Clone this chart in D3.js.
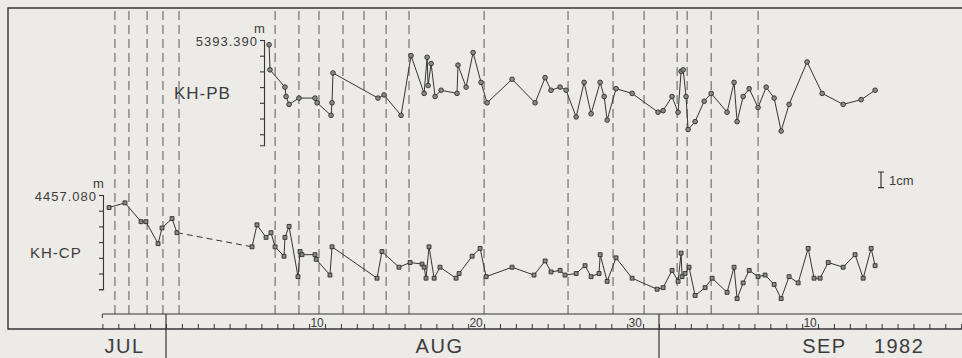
<!DOCTYPE html>
<html>
<head>
<meta charset="utf-8">
<script src="https://cdn.jsdelivr.net/npm/d3@7"></script>
<style>
  html, body { margin: 0; padding: 0; background: #ecebe8; }
  svg { display: block; }
  text { font-family: "Liberation Sans", Arial, sans-serif; fill: #3c3c3c; }
</style>
</head>
<body>
<svg id="chart" width="962" height="358"></svg>
<script>
// time is counted in days: t = 1 is 1 Aug 1982 0h, t = 32 is 1 Sep 1982 0h
const pbDays = [7.48, 7.54, 8.48, 8.55, 8.74, 9.36, 10.37, 10.50, 11.38, 11.44, 11.50, 14.33, 14.71, 15.78,
  16.41, 17.23, 17.42, 17.48, 17.67, 17.92, 18.30, 19.30, 19.36, 19.87, 20.31, 20.81, 21.19, 22.76, 24.21,
  24.84, 25.21, 25.78, 26.16, 26.79, 27.29, 27.73, 28.30, 28.55, 28.74, 29.30, 30.31, 31.94, 32.26, 32.82,
  33.20, 33.39, 33.52, 33.70, 33.83, 34.27, 34.84, 35.28, 36.28, 36.72, 36.91, 37.29, 37.67, 38.23, 38.74,
  39.24, 39.68, 40.18, 41.31, 42.26, 43.58, 44.71, 45.59];
const pbValues = [5393.387, 5393.371, 5393.360, 5393.354, 5393.349, 5393.353, 5393.353, 5393.350, 5393.342,
  5393.350, 5393.369, 5393.353, 5393.355, 5393.342, 5393.380, 5393.356, 5393.379, 5393.361, 5393.375,
  5393.354, 5393.358, 5393.356, 5393.374, 5393.360, 5393.382, 5393.363, 5393.350, 5393.365, 5393.350,
  5393.366, 5393.358, 5393.360, 5393.358, 5393.341, 5393.363, 5393.343, 5393.363, 5393.354, 5393.339,
  5393.359, 5393.356, 5393.344, 5393.345, 5393.354, 5393.344, 5393.370, 5393.371, 5393.354, 5393.333,
  5393.338, 5393.351, 5393.356, 5393.344, 5393.363, 5393.338, 5393.354, 5393.359, 5393.347, 5393.360,
  5393.353, 5393.332, 5393.349, 5393.376, 5393.356, 5393.349, 5393.352, 5393.358];

const cpDays = [-2.58, -1.58, -0.57, -0.26, 0.50, 0.75, 1.38, 1.69, 6.41, 6.72, 7.29, 7.60, 7.86, 8.42, 8.48,
  8.74, 9.30, 9.43, 9.55, 10.37, 10.45, 11.31, 11.44, 14.27, 14.58, 15.65, 16.35, 17.10, 17.23, 17.35, 17.54,
  17.86, 18.23, 19.24, 19.43, 20.25, 20.75, 21.13, 22.76, 24.14, 24.84, 25.21, 25.78, 26.09, 26.79, 27.35,
  27.73, 28.23, 28.30, 28.74, 29.30, 30.31, 31.88, 32.26, 32.82, 33.20, 33.39, 33.45, 33.64, 33.89, 34.27,
  34.90, 35.34, 36.28, 36.72, 36.91, 37.29, 37.67, 38.23, 38.67, 39.24, 39.68, 40.18, 40.75, 41.38, 41.75,
  42.13, 42.64, 43.58, 44.33, 44.84, 45.34, 45.59];
const cpValues = [4457.072, 4457.075, 4457.063, 4457.063, 4457.049, 4457.059, 4457.065, 4457.056, 4457.047,
  4457.061, 4457.053, 4457.056, 4457.047, 4457.041, 4457.053, 4457.060, 4457.028, 4457.044, 4457.042,
  4457.042, 4457.039, 4457.029, 4457.047, 4457.027, 4457.044, 4457.034, 4457.037, 4457.036, 4457.034,
  4457.027, 4457.047, 4457.027, 4457.034, 4457.027, 4457.030, 4457.041, 4457.046, 4457.028, 4457.034,
  4457.029, 4457.038, 4457.031, 4457.032, 4457.029, 4457.030, 4457.035, 4457.028, 4457.030, 4457.042,
  4457.025, 4457.040, 4457.027, 4457.020, 4457.021, 4457.032, 4457.025, 4457.043, 4457.028, 4457.030,
  4457.034, 4457.016, 4457.021, 4457.027, 4457.018, 4457.034, 4457.014, 4457.024, 4457.032, 4457.028,
  4457.029, 4457.023, 4457.014, 4457.028, 4457.024, 4457.046, 4457.027, 4457.027, 4457.037, 4457.034,
  4457.042, 4457.027, 4457.046, 4457.035];

// dashed vertical marks
const eventDays = [-2.21, -1.33, -0.19, 0.81, 1.82, 7.86, 9.36, 10.62, 12.13, 13.45, 14.84, 16.28, 21.0,
  26.28, 29.11, 31.06, 33.14, 33.77, 35.28, 38.23];

const pbTop = 5393.390;
const cpTop = 4457.080;
const monthStarts = [1, 32];
const monthNames = ["JUL", "AUG", "SEP", "1982"];
const monthLabelDays = [-1.6, 18.2, 42.4, 47.1];
const dayLabels = ["10", "20", "30", "10"];
const dayLabelDays = [10.5, 20.5, 30.5, 41.5];

const width = 962, height = 358;
const frameL = 8, frameT = 8, baseY = 329, innerY = 314;
const pxPerCm = 15.7;
const ink = "#353535";

const svg = d3.select("#chart");

const x = d3.scaleLinear().domain([1, 32]).range([166, 659]);
const yPB = d3.scaleLinear().domain([pbTop, pbTop - 0.067]).range([40, 40 + 6.7 * pxPerCm]);
const yCP = d3.scaleLinear().domain([cpTop, cpTop - 0.06]).range([195, 195 + 6 * pxPerCm]);
const lastDay = x.invert(width);

// frame
svg.append("path")
  .attr("d", `M${width},${frameT}H${frameL}V${baseY}H${width}`)
  .attr("fill", "none")
  .attr("stroke", ink)
  .attr("stroke-width", 1.4);

// event lines
svg.selectAll(".event")
  .data(eventDays)
  .enter()
  .append("line")
  .attr("class", "event")
  .attr("x1", d => x(d)).attr("x2", d => x(d))
  .attr("y1", frameT + 3).attr("y2", innerY)
  .attr("stroke", "#5a5a5a")
  .attr("stroke-width", 1)
  .attr("stroke-dasharray", "9,5");

// day axis
svg.append("line")
  .attr("x1", x(-3)).attr("x2", width)
  .attr("y1", innerY).attr("y2", innerY)
  .attr("stroke", ink).attr("stroke-width", 1.2);
svg.append("line")
  .attr("x1", x(-3)).attr("x2", x(-3))
  .attr("y1", innerY).attr("y2", innerY + 4)
  .attr("stroke", ink);

svg.append("g")
  .attr("transform", `translate(0,${baseY})`)
  .call(d3.axisTop(x)
    .tickValues(d3.range(-3, Math.floor(lastDay) + 1))
    .tickSize(5)
    .tickFormat(""))
  .call(g => g.select(".domain").remove())
  .call(g => g.selectAll("line").attr("stroke", ink));

svg.selectAll(".daylab")
  .data(dayLabels)
  .enter()
  .append("text")
  .attr("class", "daylab")
  .attr("x", (d, i) => x(dayLabelDays[i]))
  .attr("y", baseY - 2)
  .attr("text-anchor", "middle")
  .style("font-size", "12px")
  .text(d => d);

svg.selectAll(".msep")
  .data(monthStarts)
  .enter()
  .append("line")
  .attr("class", "msep")
  .attr("x1", d => x(d)).attr("x2", d => x(d))
  .attr("y1", innerY).attr("y2", height)
  .attr("stroke", ink).attr("stroke-width", 1.2);

svg.selectAll(".month")
  .data(monthNames)
  .enter()
  .append("text")
  .attr("class", "month")
  .attr("x", (d, i) => x(monthLabelDays[i]))
  .attr("y", 353)
  .attr("text-anchor", "middle")
  .style("font-size", "20px")
  .style("letter-spacing", "1.5px")
  .text(d => d);

// vertical scales
function drawScale(y, top, axisX, label, labelX, labelY, labelSize) {
  const g = svg.append("g").attr("transform", `translate(${axisX},0)`);
  g.call(d3.axisLeft(y)
      .tickValues(d3.range(7).map(k => top - k * 0.01))
      .tickSize(4)
      .tickSizeOuter(4)
      .tickFormat(""))
    .call(g => g.selectAll("path,line").attr("stroke", ink).attr("stroke-width", 1.1));

  svg.append("text")
    .attr("x", axisX - 6).attr("y", y(top) + 6)
    .attr("text-anchor", "end")
    .style("font-size", "13px")
    .style("letter-spacing", "1px")
    .text(top.toFixed(3));
  svg.append("text")
    .attr("x", axisX - 10).attr("y", y(top) - 7)
    .style("font-size", "13px")
    .text("m");
  svg.append("text")
    .attr("x", labelX).attr("y", labelY)
    .style("font-size", labelSize)
    .style("letter-spacing", "1px")
    .text(label);
}

drawScale(yPB, pbTop, 264, "KH-PB", 174, 99, "17px");
drawScale(yCP, cpTop, 103, "KH-CP", 30, 258, "15px");

// series
function drawSeries(days, values, y, shape) {
  const pts = days.map((d, i) => [x(d), y(values[i])]);
  const segs = d3.pairs(pts).map((p, i) => ({ p, gap: days[i + 1] - days[i] > 4 }));

  svg.append("g")
    .selectAll("line")
    .data(segs)
    .enter()
    .append("line")
    .attr("x1", d => d.p[0][0]).attr("y1", d => d.p[0][1])
    .attr("x2", d => d.p[1][0]).attr("y2", d => d.p[1][1])
    .attr("stroke", ink)
    .attr("stroke-width", 1)
    .attr("stroke-dasharray", d => d.gap ? "6,4" : null);

  const sym = d3.symbol().type(shape === "circle" ? d3.symbolCircle : d3.symbolSquare)
    .size(shape === "circle" ? 17 : 15);
  svg.append("g")
    .selectAll("path")
    .data(pts)
    .enter()
    .append("path")
    .attr("d", sym)
    .attr("transform", d => `translate(${d[0]},${d[1]})`)
    .attr("fill", "#8a8a8a")
    .attr("stroke", "#2e2e2e")
    .attr("stroke-width", 0.9);
}

drawSeries(pbDays, pbValues, yPB, "circle");
drawSeries(cpDays, cpValues, yCP, "square");

// 1 cm bar
const barX = 881, barY = 172;
svg.append("path")
  .attr("d", `M${barX - 3},${barY}H${barX + 3}M${barX},${barY}V${barY + pxPerCm}M${barX - 3},${barY + pxPerCm}H${barX + 3}`)
  .attr("stroke", ink)
  .attr("fill", "none")
  .attr("stroke-width", 1.2);
svg.append("text")
  .attr("x", barX + 8).attr("y", barY + 13)
  .style("font-size", "13px")
  .text("1cm");
</script>
</body>
</html>
